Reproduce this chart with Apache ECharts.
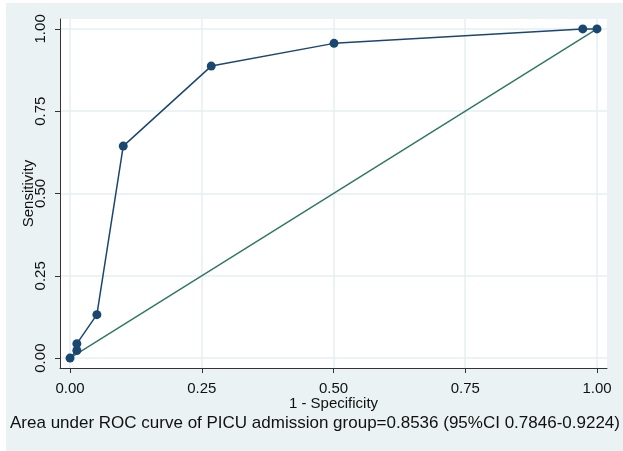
<!DOCTYPE html>
<html>
<head>
<meta charset="utf-8">
<script src="https://cdn.jsdelivr.net/npm/echarts@6/dist/echarts.min.js"></script>
<style>
  html, body { margin: 0; padding: 0; background: #fff; }
  #roc { width: 623px; height: 451px; }
</style>
</head>
<body>
<div id="roc"></div>
<script>
// ROC points
var specX = [0, 0.013, 0.013, 0.051, 0.101, 0.268, 0.501, 0.973, 1];
var sensY = [0, 0.023, 0.044, 0.132, 0.644, 0.887, 0.956, 1, 1];
// reference (chance) line
var refX = [0, 1];
var refY = [0, 1];
var tickVals = [0, 0.25, 0.5, 0.75, 1];
var footText = 'Area under ROC curve of PICU admission group=0.8536 (95%CI 0.7846-0.9224)';

var rocData = [];
for (var i = 0; i < specX.length; i++) {
    rocData.push([specX[i], sensY[i]]);
}
var refData = [];
for (var j = 0; j < refX.length; j++) {
    refData.push([refX[j], refY[j]]);
}

var chart = echarts.init(document.getElementById('roc'));

var font = 'Liberation Sans, Arial, Helvetica, sans-serif';

option = {
    backgroundColor: 'transparent',
    animation: false,
    textStyle: { fontFamily: font },
    graphic: [
        {
            type: 'rect',
            z: -10,
            shape: { x: 6, y: 3, width: 617, height: 448 },
            style: { fill: '#eaf2f3' }
        },
        {
            type: 'text',
            left: 10,
            top: 415,
            style: {
                text: footText,
                fontSize: 17,
                fontFamily: font,
                fill: '#111'
            }
        }
    ],
    grid: {
        left: 60,
        top: 19,
        width: 547,
        height: 349,
        show: true,
        backgroundColor: '#ffffff',
        borderWidth: 0
    },
    xAxis: {
        type: 'value',
        min: -0.019,
        max: 1.019,
        name: '1 - Specificity',
        nameLocation: 'middle',
        nameGap: 28,
        nameMoveOverlap: false,
        nameTextStyle: { fontSize: 15, color: '#111' },
        axisLine: { show: true, onZero: false, lineStyle: { color: '#333', width: 1 } },
        axisTick: { show: true, length: 5, customValues: tickVals, lineStyle: { color: '#333' } },
        axisLabel: {
            customValues: tickVals,
            fontSize: 15,
            color: '#111',
            margin: 13,
            formatter: function (v) { return v.toFixed(2); }
        },
        splitLine: { show: true, lineStyle: { color: '#e6eff1', width: 1.5 } }
    },
    yAxis: {
        type: 'value',
        min: -0.03,
        max: 1.03,
        name: 'Sensitivity',
        nameLocation: 'middle',
        nameGap: 24,
        nameMoveOverlap: false,
        nameTextStyle: { fontSize: 15, color: '#111' },
        axisLine: { show: true, onZero: false, lineStyle: { color: '#333', width: 1 } },
        axisTick: { show: true, length: 5, customValues: tickVals, lineStyle: { color: '#333' } },
        axisLabel: {
            customValues: tickVals,
            fontSize: 15,
            color: '#111',
            rotate: 90,
            margin: 12,
            formatter: function (v) { return v.toFixed(2); }
        },
        splitLine: { show: true, lineStyle: { color: '#e6eff1', width: 1.5 } }
    },
    series: [
        {
            name: 'ROC',
            type: 'line',
            data: rocData,
            symbol: 'circle',
            symbolSize: 9,
            lineStyle: { color: '#1a476f', width: 1.5 },
            itemStyle: { color: '#1a476f' }
        },
        {
            name: 'Reference',
            type: 'line',
            data: refData,
            symbol: 'none',
            lineStyle: { color: '#2f7566', width: 1.4 }
        }
    ]
};

chart.setOption(option);
</script>
</body>
</html>
